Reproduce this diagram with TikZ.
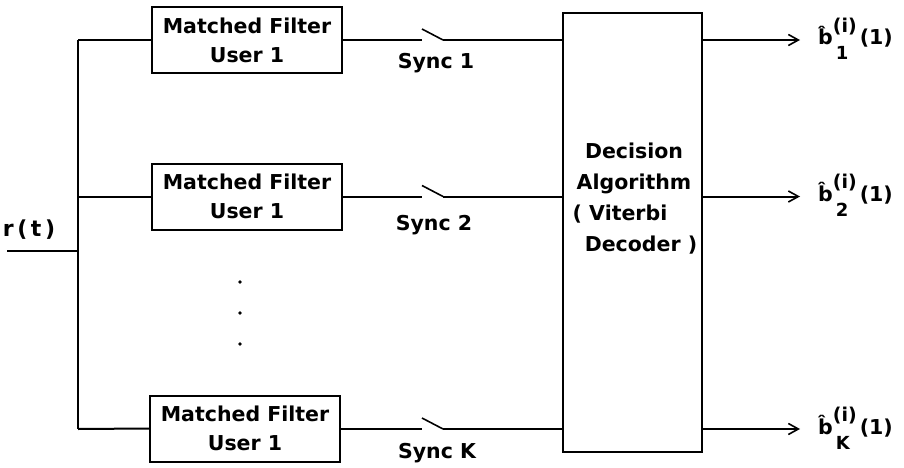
\documentclass[tikz,border=0pt]{standalone}
\usepackage{fontspec}
\setmainfont{DejaVu Sans}[BoldFont={DejaVu Sans Bold}]
\usetikzlibrary{arrows.meta,calc}
% estimate label: b-hat with user subscript, (i) superscript, then (1)
\newcommand\bhatlabel[1]{\^{b}\rlap{\hspace{3pt}\raisebox{-15pt}{\fontsize{18}{18}\selectfont#1}}%
  \raisebox{12.5pt}{\fontsize{19}{19}\selectfont(i)}\hspace{3pt}(1)}
\begin{document}
\begin{tikzpicture}[x=1pt,y=-1pt,
  wire/.style={line width=2pt},
  mfbox/.style={draw,line width=2pt,minimum width=190pt,minimum height=66pt,
    align=center,font=\fontsize{20.5}{29}\selectfont\bfseries,inner sep=0pt},
  lbl/.style={font=\fontsize{20.5}{29}\selectfont\bfseries,inner sep=0pt},
  outarrow/.style={wire,-{Straight Barb[length=10pt,width=11pt,line width=1.6pt]}}]
\useasboundingbox (0,0) rectangle (904,468);

% matched filter banks
\node[mfbox] (mf1) at (247,40)    {Matched Filter\\User 1};
\node[mfbox] (mf2) at (247,196.5) {Matched Filter\\User 1};
\node[mfbox] (mfk) at (245,428.5) {Matched Filter\\User 1};

% decision block
\node[draw,line width=2pt,minimum width=139pt,minimum height=439pt,inner sep=0pt]
  (dec) at (632.5,232.5) {};
\node[lbl,align=center,font=\fontsize{20.5}{31}\selectfont\bfseries] (dectext) at (634,199)
  {Decision\\Algorithm\\( Viterbi\makebox[28pt]{}\\\makebox[14pt]{}Decoder )};

% input and distribution bus
\coordinate (in) at (7,251);
\coordinate (bus) at (78,251);
\coordinate (bustop) at (78,40);
\coordinate (busbot) at (78,429);
\node[lbl,anchor=base,font=\fontsize{22}{29}\selectfont\bfseries] (rt) at (29,236) {r\,(\,t\,)};
\draw[wire] (in) -- (bus);
\draw[wire] (bustop) -- (busbot);
\draw[wire] (bustop) -- (mf1.west);
\draw[wire] (78,196.5) -- (mf2.west);
\draw[wire] (busbot) -- (mfk.west);

% vertical ellipsis
\foreach \yy/\nm in {282/d1,313/d2,344/d3}
  \fill (240,\yy) circle (1.8pt) coordinate (\nm);

% sampling switches
\foreach \src/\yy/\nm in {mf1/40/1, mf2/196.5/2, mfk/429/K}{
  \coordinate (swa\nm) at (422,\yy);
  \coordinate (swb\nm) at (443,\yy);
  \draw[wire] (\src.east |- swa\nm) -- (swa\nm);
  \draw[line width=1.6pt] (swb\nm) -- ($(swa\nm)+(0,-11)$);
  \draw[wire] (swb\nm) -- (dec.west |- swb\nm);
}
\node[lbl,anchor=base] (s1) at (436,69)  {Sync 1};
\node[lbl,anchor=base] (s2) at (434,230) {Sync 2};
\node[lbl,anchor=base] (sk) at (437,458) {Sync K};

% decisions out
\foreach \yy/\nm in {40/1,196.5/2,429/K}{
  \coordinate (out\nm) at (800,\yy);
  \draw[outarrow] (dec.east |- out\nm) -- (out\nm);
}
\node[lbl,anchor=base west] (b1) at (818,45)  {\bhatlabel{1}};
\node[lbl,anchor=base west] (b2) at (818,201) {\bhatlabel{2}};
\node[lbl,anchor=base west] (bk) at (818,434) {\bhatlabel{K}};
\end{tikzpicture}
\end{document}
